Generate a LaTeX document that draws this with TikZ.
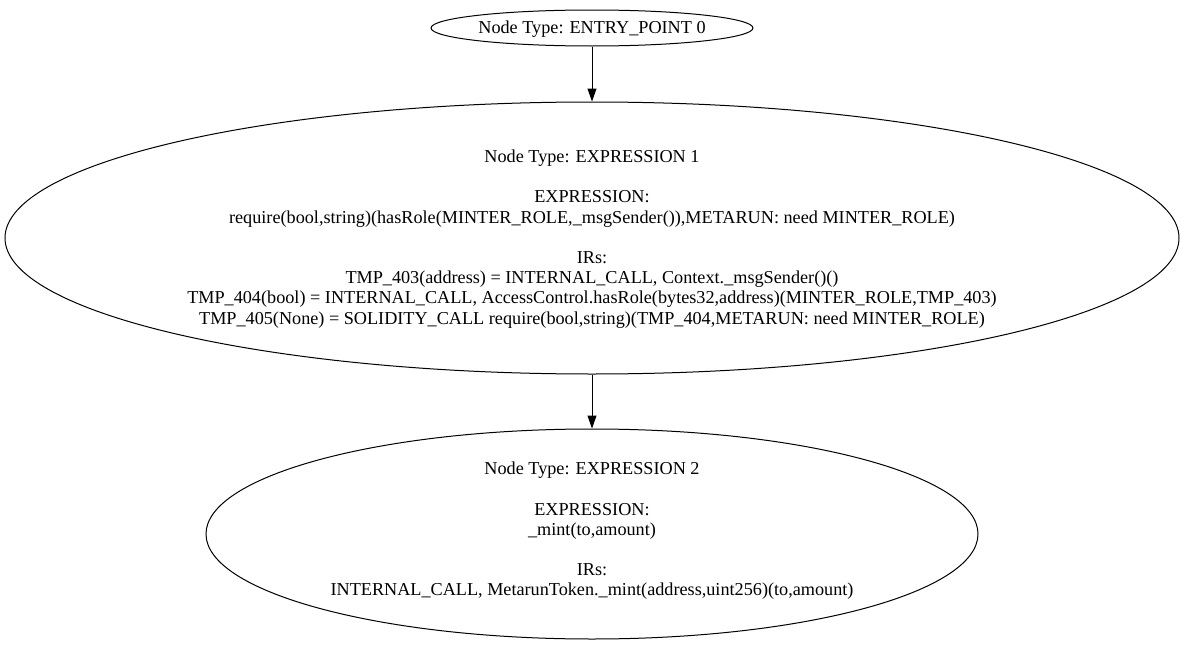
\documentclass[tikz,border=0pt]{standalone}
\usepackage{fontspec}
\setmainfont{Liberation Serif}
\usetikzlibrary{shapes.geometric,arrows.meta}
\begin{document}
\begin{tikzpicture}[x=1pt,y=-1pt,
  ell/.style={draw,ellipse,line width=1pt,inner sep=0pt},
  lbl/.style={align=center,inner sep=0pt,font=\fontsize{18.2}{20.2}\selectfont},
  edge/.style={line width=1pt,-{Triangle[length=13pt,width=9pt]}}]
\useasboundingbox (0,0) rectangle (1184,645);
\node[ell,minimum width=322pt,minimum height=36pt] (n0) at (592,28) {};
\node[ell,minimum width=1174pt,minimum height=272pt] (n1) at (592,238) {};
\node[ell,minimum width=772pt,minimum height=210pt] (n2) at (592,534) {};
\node[lbl] (t0) at (592,29) {Node Type: ENTRY\_POINT 0};
\node[lbl] (t1) at (592,239) {Node Type: EXPRESSION 1\\[20.2pt]
EXPRESSION:\\
require(bool,string)(hasRole(MINTER\_ROLE,\_msgSender()),METARUN: need MINTER\_ROLE)\\[20.2pt]
IRs:\\
TMP\_403(address) = INTERNAL\_CALL, Context.\_msgSender()()\\
TMP\_404(bool) = INTERNAL\_CALL, AccessControl.hasRole(bytes32,address)(MINTER\_ROLE,TMP\_403)\\
TMP\_405(None) = SOLIDITY\_CALL require(bool,string)(TMP\_404,METARUN: need MINTER\_ROLE)};
\node[lbl] (t2) at (592,531) {Node Type: EXPRESSION 2\\[20.2pt]
EXPRESSION:\\
\_mint(to,amount)\\[20.2pt]
IRs:\\
INTERNAL\_CALL, MetarunToken.\_mint(address,uint256)(to,amount)};
\draw[edge] (n0) -- (n1);
\draw[edge] (n1) -- (n2);
\end{tikzpicture}
\end{document}
